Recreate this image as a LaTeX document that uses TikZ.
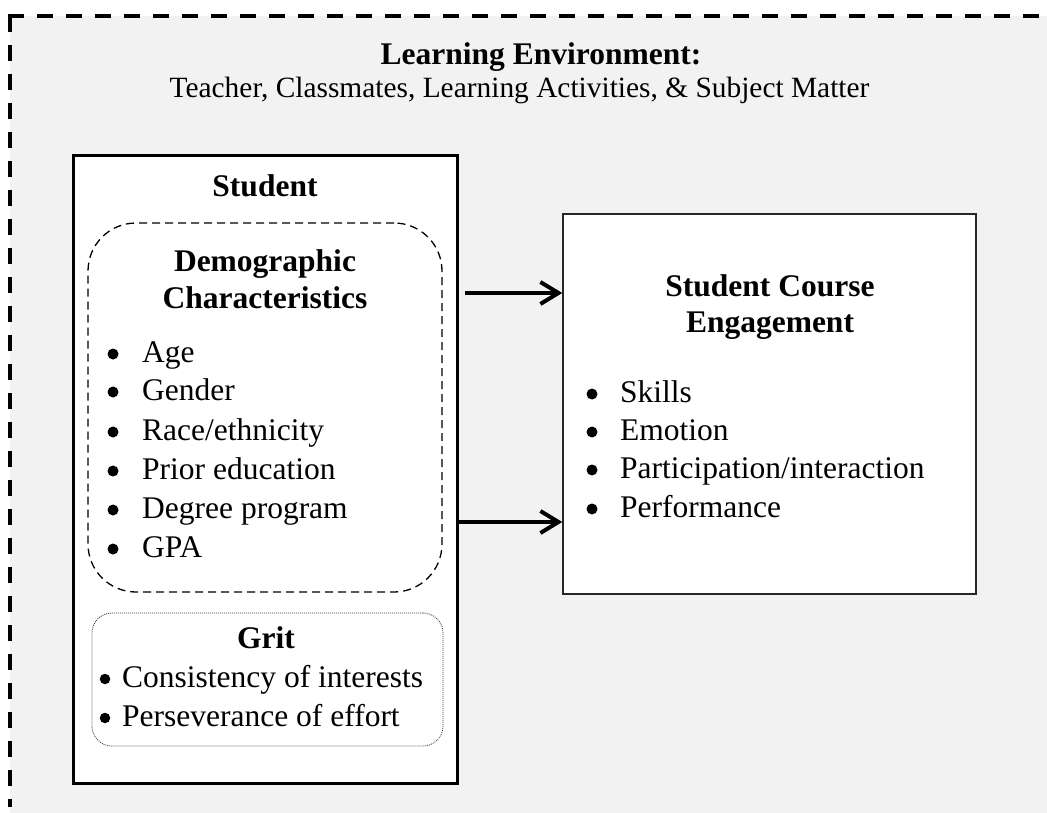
\documentclass[tikz,border=0pt]{standalone}
\usepackage{fontspec}
\setmainfont{Liberation Serif}
\usetikzlibrary{arrows.meta}
\definecolor{envgray}{HTML}{F2F2F2}
\begin{document}
\begin{tikzpicture}[x=1pt,y=-1pt,
  txt/.style={inner sep=0pt, anchor=base, font=\fontsize{31.5}{37.8}\selectfont},
  sub/.style={inner sep=0pt, anchor=base, font=\fontsize{29.4}{35}\selectfont},
  ttl/.style={inner sep=0pt, anchor=base, font=\fontsize{31.5}{37.8}\selectfont\bfseries},
  item/.style={inner sep=0pt, anchor=base west, font=\fontsize{31.5}{37.8}\selectfont},
  bul/.style={circle, fill=black, inner sep=0pt, minimum size=11pt},
  envborder/.style={line width=4pt, dash pattern=on 16pt off 13pt},
  stubox/.style={draw=black, line width=3pt, fill=white, inner sep=0pt},
  demobox/.style={draw=black, line width=1.3pt, dash pattern=on 8pt off 5pt, rounded corners=48pt, inner sep=0pt},
  gritbox/.style={draw=black!75, line width=0.8pt, dash pattern=on 1pt off 1pt, rounded corners=20pt, inner sep=0pt},
  engbox/.style={draw=black!85, line width=1.5pt, fill=white, inner sep=0pt},
  arr/.style={line width=4pt, -{Straight Barb[length=18pt, width=22pt]}}
]
\useasboundingbox (0,0) rectangle (1047,813);
% environment
\node[fill=envgray, inner sep=0pt, minimum width=1037pt, minimum height=797pt, anchor=north west] (env) at (10,16) {};
\draw[envborder] ([xshift=-2pt]env.north west) -- ([xshift=-5pt]env.north east);
\draw[envborder] (env.north west) -- ([yshift=6pt]env.south west);
\node[ttl] (envt) at (541,65) {Learning Environment:};
\node[sub] (envs) at (519.5,98) {Teacher, Classmates, Learning Activities, \& Subject Matter};

% student box
\node[stubox, minimum width=384pt, minimum height=627pt] (stu) at (265,469.5) {};
\node[ttl] (stut) at (265,197) {Student};
\node[demobox, minimum width=354pt, minimum height=369pt] (demo) at (265,407.5) {};
\node[ttl] (demot1) at (265,271) {Demographic};
\node[ttl] (demot2) at (265,308) {Characteristics};
\foreach \y/\t [count=\i] in {362/Age, 400/Gender, 440/Race\slash ethnicity, 479/Prior education, 518/Degree program, 557/GPA}{
  \node[bul] (db\i) at (113,\y-8) {};
  \node[item] (di\i) at (142,\y) {\t};
}
\node[gritbox, minimum width=351pt, minimum height=133pt] (grit) at (267.5,679.5) {};
\node[ttl] (gritt) at (266,648) {Grit};
\node[bul, minimum size=10.5pt] (gb1) at (105,679) {};
\node[item] (gi1) at (122,687) {Consistency of interests};
\node[bul, minimum size=10.5pt] (gb2) at (105,718) {};
\node[item] (gi2) at (122,726) {Perseverance of effort};

% engagement box
\node[engbox, minimum width=413pt, minimum height=380pt] (eng) at (769.5,404) {};
\node[ttl] (engt1) at (770,296) {Student Course};
\node[ttl] (engt2) at (770,332) {Engagement};
\foreach \y/\t [count=\i] in {402/Skills, 440/Emotion, 478/Participation\slash interaction, 517/Performance}{
  \node[bul] (eb\i) at (592,\y-8) {};
  \node[item] (ei\i) at (620,\y) {\t};
}

% arrows
\coordinate (a1) at (465,293);
\coordinate (a2) at (0,522);
\draw[arr] (a1) -- (eng.west |- a1);
\draw[arr] (stu.east |- a2) -- (eng.west |- a2);
\end{tikzpicture}
\end{document}
